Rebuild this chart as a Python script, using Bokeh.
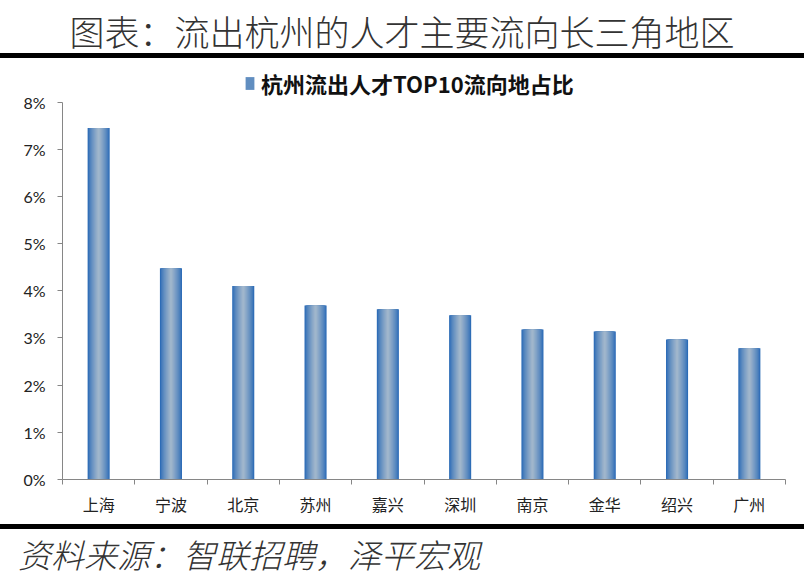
from bokeh.plotting import figure
from bokeh.models import (ColumnDataSource, LinearAxis, FixedTicker, NumeralTickFormatter,
                          Legend, LegendItem, Div, Range1d, CustomJSTickFormatter)
from bokeh.layouts import column
from bokeh.embed import file_html
from bokeh.resources import INLINE

# ---- data ----
cities = ["上海", "宁波", "北京", "苏州", "嘉兴", "深圳", "南京", "金华", "绍兴", "广州"]
shares = [7.45, 4.48, 4.10, 3.69, 3.61, 3.48, 3.18, 3.14, 2.97, 2.78]  # percent
y_ticks = [0, 1, 2, 3, 4, 5, 6, 7, 8]
title_text = "图表：流出杭州的人才主要流向长三角地区"
legend_text = "杭州流出人才TOP10流向地占比"
source_text = "资料来源：智联招聘，泽平宏观"

xs = [i + 0.5 for i in range(len(cities))]
vals = [v / 100 for v in shares]
src = ColumnDataSource(dict(x=xs, top=vals, city=cities))

W_PAGE = 804
y_max = y_ticks[-1] / 100
p = figure(width=W_PAGE, height=466, output_backend="svg", toolbar_location=None,
           x_range=Range1d(0, len(cities)), y_range=Range1d(0, y_max * 1.105),
           x_axis_location=None, y_axis_location=None,
           min_border_left=62, min_border_right=19, min_border_top=4, min_border_bottom=45)
p.outline_line_color = None
p.grid.visible = False
p.background_fill_color = "white"
p.border_fill_color = "white"

# gradient bars: stacked vbars of decreasing width, dark edge -> light centre
edge = (42, 106, 182)
center = (160, 182, 204)
N = 12
W = 0.305
rends = []
for k in range(N):
    t = (k / (N - 1)) ** 0.75
    col = "#%02x%02x%02x" % tuple(int(round(e + (c - e) * t)) for e, c in zip(edge, center))
    w = W * (1 - k / N)
    r = p.vbar(x="x", top="top", bottom=0, width=w, source=src, fill_color=col, line_color=None)
    rends.append(r)

legend = Legend(items=[LegendItem(label=legend_text, renderers=[rends[4]])],
                location=(182, 380), orientation="horizontal",
                border_line_color=None, background_fill_alpha=0,
                label_text_font="Noto Sans CJK SC", label_text_font_style="bold",
                label_text_font_size="22px", label_text_color="#111",
                glyph_width=11, glyph_height=16, padding=0, margin=0, label_standoff=6)
p.add_layout(legend, "center")

axis_col = "#868686"

yax = LinearAxis(ticker=FixedTicker(ticks=[t / 100 for t in y_ticks]),
                 formatter=NumeralTickFormatter(format="0%"), bounds=(0, y_max),
                 major_tick_out=5, major_tick_in=0, minor_tick_line_color=None,
                 axis_line_color=axis_col, major_tick_line_color=axis_col,
                 major_label_standoff=12, major_label_text_font="Lato",
                 major_label_text_font_size="16px", major_label_text_color="#222")
p.add_layout(yax, "left")

ax_ticks = LinearAxis(ticker=FixedTicker(ticks=list(range(len(cities) + 1))),
                      formatter=CustomJSTickFormatter(code="return ''"),
                      major_tick_out=5, major_tick_in=0, minor_tick_line_color=None,
                      axis_line_color=axis_col, major_tick_line_color=axis_col,
                      major_label_standoff=0, major_label_text_font_size="1px")
p.add_layout(ax_ticks, "below")

ax_labels = LinearAxis(ticker=FixedTicker(ticks=xs),
                       major_label_overrides=dict(zip(xs, cities)),
                       axis_line_color=None, major_tick_line_color=None,
                       major_tick_out=0, major_tick_in=0, minor_tick_line_color=None,
                       major_label_standoff=7, major_label_text_font="Noto Sans CJK SC",
                       major_label_text_font_size="16px", major_label_text_color="#222")
p.add_layout(ax_labels, "below")

title_div = Div(width=W_PAGE, height=58, margin=0, text=(
    '<div style="box-sizing:border-box;width:804px;height:58px;padding-top:11px;line-height:40px;'
    'border-bottom:5px solid #000;text-align:center;font-family:\'Noto Sans CJK SC\';'
    'font-size:35px;font-weight:300;color:#333;white-space:nowrap;">' + title_text + '</div>'))

source_div = Div(width=W_PAGE, height=55, margin=0, text=(
    '<div style="box-sizing:border-box;width:804px;height:55px;border-top:5px solid #000;'
    'padding-top:5px;line-height:40px;padding-left:18px;'
    'font-family:\'Noto Sans CJK SC\';font-size:33px;font-style:italic;font-weight:300;'
    'color:#333;white-space:nowrap;">' + source_text + '</div>'))

layout = column(title_div, p, source_div, spacing=0)
open("out.html", "w").write(file_html(layout, INLINE))
